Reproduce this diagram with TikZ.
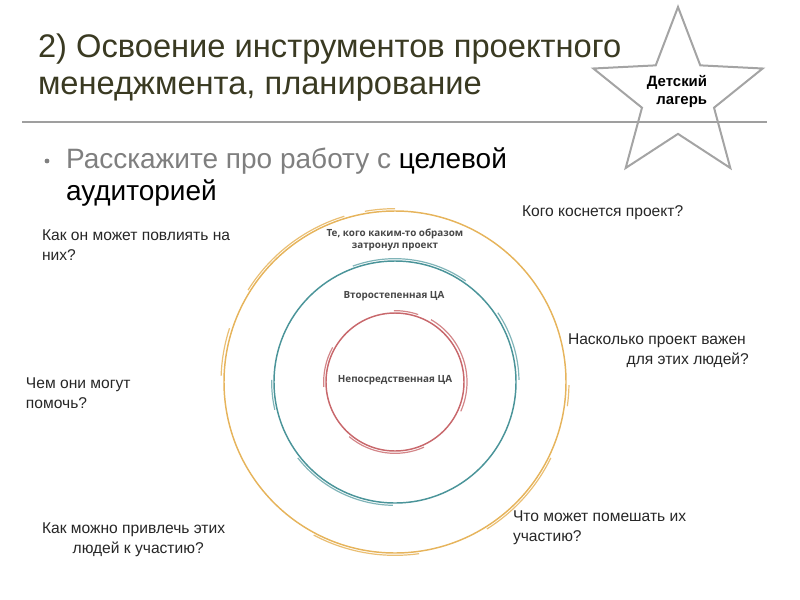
\documentclass[tikz,border=0pt]{standalone}
\usepackage{fontspec}
\setmainfont{Liberation Sans}
\newfontfamily\ringfont{Open Sans}
\usetikzlibrary{shapes.geometric}
\definecolor{titlecol}{HTML}{3A3A22}
\definecolor{bulletgray}{HTML}{7F7F7F}
\definecolor{orng}{HTML}{E6B45C}
\definecolor{teal}{HTML}{4A9499}
\definecolor{rose}{HTML}{C8686C}
\definecolor{stargray}{HTML}{A4A4A4}
\begin{document}
\begin{tikzpicture}[x=0.75pt,y=-0.75pt]
    \tikzstyle{every node}=[inner sep=0pt, outer sep=0pt]
    \tikzset{
        ttl/.style={font=\fontsize{24.5}{29}\selectfont, text=titlecol, anchor=base west},
        bul/.style={font=\fontsize{21}{26}\selectfont, anchor=base west},
        q/.style={font=\fontsize{11.7}{15}\selectfont, text=black!85, align=left, anchor=west},
        lbl/.style={font=\ringfont\bfseries\fontsize{7.4}{9}\selectfont, text=black!72, align=center},
        o/.style={draw=orng, line width=1.1pt},
        o2/.style={draw=orng!85, line width=0.9pt},
        t/.style={draw=teal, line width=1.1pt},
        t2/.style={draw=teal!70, line width=0.9pt},
        r/.style={draw=rose, line width=1.1pt},
        r2/.style={draw=rose!80, line width=0.9pt}
        }
    \useasboundingbox (0,0) rectangle (800,600);

    %title
    \node (title1) [ttl] at (38,57) {2) Освоение инструментов проектного};
    \node (title2) [ttl] at (38,94) {менеджмента, планирование};
    \draw [gray!75, line width=0.8pt] (22,122) -- (767,122);

    %star
    \node (star) [star, star points=5, star point ratio=2.35, minimum size=133.5pt,
        draw=stargray, line width=1.5pt] at (678,96) {};
    \node (camp) [font=\bfseries\fontsize{11.2}{13.5}\selectfont, align=right] at (677,91) {Детский\\лагерь};

    %bullet
    \node (dot) [circle, fill=bulletgray, minimum size=3.6pt] at (47,161) {};
    \node (bul1) [bul] at (66,168) {\textcolor{bulletgray}{Расскажите про работу с} целевой};
    \node (bul2) [bul] at (66,200) {аудиторией};

    %rings
    \coordinate (c) at (395,382);
    \draw [o] (c) circle [radius=128.25pt];
    \draw [t] (c) circle [radius=90.75pt];
    \draw [r] (c) circle [radius=51.75pt];

    % sketchy second strokes
    \foreach \a/\b/\rr in {90/100/130, 107/148/130, 162/178/130.5, -8/-1/130.5, -58/-26/130, -118/-82/130}
        \draw [o2] (c) ++(\a:\rr pt) arc [start angle=\a, end angle=\b, radius=\rr pt];
    \foreach \a/\b/\rr in {55/110/92.5, 1/34/93, 179/193/92.5, 218/269/92.5}
        \draw [t2] (c) ++(\a:\rr pt) arc [start angle=\a, end angle=\b, radius=\rr pt];
    \foreach \a/\b/\rr in {71/91/53.5, -24/60/54, 151/184/53.5, 230/294/53.5}
        \draw [r2] (c) ++(\a:\rr pt) arc [start angle=\a, end angle=\b, radius=\rr pt];

    %ring labels
    \node (touched) [lbl] at (395,240) {Те, кого каким-то образом\\затронул проект};
    \node (second) [lbl] at (394,296) {Второстепенная ЦА};
    \node (direct) [lbl] at (395,380) {Непосредственная ЦА};

    %questions
    \node (who) [q] at (522,213) {Кого коснется проект?};
    \node (how) [q] at (568,351) {Насколько проект важен\\\hspace*{44pt}для  этих людей?};
    \node (hinder) [q] at (513,528) {Что может помешать их\\участию?};
    \node (influence) [q] at (42,245) {Как он может повлиять на\\них?};
    \node (help) [q] at (26,393) {Чем они могут\\помочь?};
    \node (attract) [q] at (42,540) {Как можно привлечь этих\\\hspace*{23pt}людей к участию?};
\end{tikzpicture}
\end{document}
